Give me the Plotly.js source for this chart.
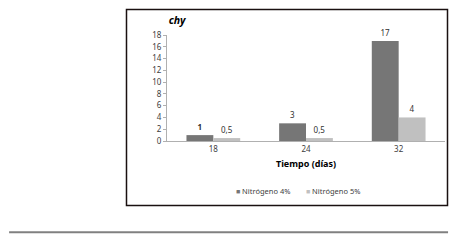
<!DOCTYPE html>
<html>
<head>
<meta charset="utf-8">
<script src="https://cdn.plot.ly/plotly-3.0.1.min.js"></script>
<style>html,body{margin:0;padding:0;background:#fff;}#chart{width:461px;height:240px;}</style>
</head>
<body>
<div id="chart"></div>
<script>
var categories = ['18', '24', '32'];
var seriesNames = ['Nitrógeno 4%', 'Nitrógeno 5%'];
var n4 = [1, 3, 17];
var n5 = [0.5, 0.5, 4];
var yTicks = [0, 2, 4, 6, 8, 10, 12, 14, 16, 18];
var colors = ['#767676', '#c0c0c0'];

var F = 'Noto Sans, Open Sans, Liberation Sans, sans-serif';

function fmt(v) { return String(v).replace('.', ','); }

var traces = [
  {
    type: 'bar', name: seriesNames[0], x: categories, y: n4, showlegend: false,
    marker: {color: colors[0], line: {width: 0}},
    text: n4.map(function (v, i) { return i === 0 ? '<b>' + fmt(v) + '</b>' : fmt(v); }),
    textposition: 'outside', cliponaxis: false,
    textfont: {family: F, size: 8, color: '#303030'},
    hoverinfo: 'none'
  },
  {
    type: 'bar', name: seriesNames[1], x: categories, y: n5, showlegend: false,
    marker: {color: colors[1], line: {width: 0}},
    text: n5.map(fmt), textposition: 'outside', cliponaxis: false,
    textfont: {family: F, size: 8, color: '#303030'},
    hoverinfo: 'none'
  }
];
// legend entries (no data of their own)
var legendNames = seriesNames.map(function (nm, i) {
  return '<span style="color:' + colors[i] + ';font-size:7px">■</span> ' + nm;
});
legendNames.push(' ');
legendNames.forEach(function (nm) {
  traces.push({
    type: 'scatter', mode: 'markers', x: [null], y: [null],
    marker: {opacity: 0, size: 0, color: 'rgba(0,0,0,0)'},
    name: nm, hoverinfo: 'none'
  });
});

var layout = {
  width: 461, height: 240,
  margin: {l: 167, r: 16, t: 35, b: 99, pad: 0},
  paper_bgcolor: '#ffffff', plot_bgcolor: '#ffffff',
  barmode: 'group', bargap: 0.42, bargroupgap: 0,
  separators: ',.',
  font: {family: F, size: 8, color: '#404040'},
  showlegend: true,
  title: {
    text: '<b><i>chy</i></b>', font: {family: F, size: 10.5, color: '#000000'},
    xref: 'paper', x: 0.006, xanchor: 'left',
    yref: 'container', y: 0.917, yanchor: 'middle'
  },
  xaxis: {
    type: 'category', showgrid: false, zeroline: false,
    showline: true, linecolor: '#b0b0b0', linewidth: 1,
    ticks: '', tickfont: {family: F, size: 8, color: '#404040'},
    title: {text: '<b>Tiempo (días)</b>', font: {family: F, size: 9, color: '#000000'}, standoff: 8},
    automargin: false
  },
  yaxis: {
    range: [0, 18], tickvals: yTicks, ticktext: yTicks.map(String),
    showgrid: false, zeroline: false,
    showline: true, linecolor: '#b0b0b0', linewidth: 1,
    ticks: 'outside', ticklen: 3, tickcolor: '#b0b0b0',
    tickfont: {family: F, size: 8, color: '#404040'},
    automargin: false
  },
  legend: {
    orientation: 'h', x: 0.104, xanchor: 'left', y: -0.47, yanchor: 'middle',
    font: {family: F, size: 7.5, color: '#404040'},
    entrywidth: 25, entrywidthmode: 'pixels', tracegroupgap: 0, bgcolor: 'rgba(0,0,0,0)'
  },
  shapes: [
    {type: 'rect', xref: 'paper', yref: 'paper', x0: -0.1457, x1: 1.009, y0: -0.6085, y1: 1.2406,
     line: {color: '#1a1010', width: 1.5}, fillcolor: 'rgba(0,0,0,0)', layer: 'above'},
    {type: 'line', xref: 'paper', yref: 'paper', x0: -0.568, x1: 1.011, y0: -0.861, y1: -0.861,
     line: {color: '#808080', width: 2}}
  ]
};

Plotly.newPlot('chart', traces, layout, {displayModeBar: false, staticPlot: true});
</script>
</body>
</html>
